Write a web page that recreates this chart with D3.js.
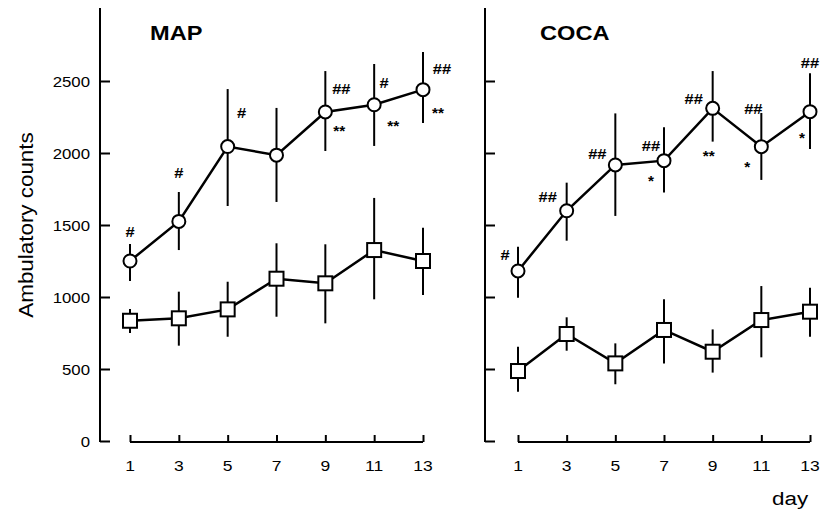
<!DOCTYPE html>
<html>
<head>
<meta charset="utf-8">
<script src="https://cdn.jsdelivr.net/npm/d3@7"></script>
<style>
  body { margin: 0; background: #fff; }
  svg { font-family: "Liberation Sans", Arial, sans-serif; }
</style>
</head>
<body>
<script>
// data
const days = [1, 3, 5, 7, 9, 11, 13];
const yTicks = [0, 500, 1000, 1500, 2000, 2500];

// MAP panel
const mapDrug = [1250, 1525, 2045, 1985, 2285, 2335, 2440];
const mapDrugHi = [1368, 1729, 2444, 2313, 2569, 2618, 2701];
const mapDrugLo = [1111, 1326, 1632, 1660, 2014, 2049, 2208];
const mapCtrl = [835, 852, 914, 1127, 1095, 1326, 1250];
const mapCtrlHi = [917, 1037, 1106, 1373, 1366, 1688, 1481];
const mapCtrlLo = [750, 662, 724, 863, 817, 984, 1014];
const mapHash = ["#", "#", "#", "", "##", "#", "##"];
const mapStar = ["", "", "", "", "**", "**", "**"];

// COCA panel
const cocaDrug = [1181, 1599, 1917, 1947, 2310, 2044, 2287];
const cocaDrugHi = [1349, 1794, 2275, 2178, 2569, 2278, 2553];
const cocaDrugLo = [995, 1391, 1563, 1725, 2079, 1813, 2028];
const cocaCtrl = [486, 743, 539, 771, 620, 840, 898];
const cocaCtrlHi = [655, 859, 678, 984, 775, 1076, 1065];
const cocaCtrlLo = [342, 627, 394, 539, 475, 581, 724];
const cocaHash = ["#", "##", "##", "##", "##", "##", "##"];
const cocaStar = ["", "", "", "*", "**", "*", "*"];

// layout
const W = 821, H = 512;
const svg = d3.select("body").append("svg")
    .attr("width", W).attr("height", H);

const y = d3.scaleLinear().domain([0, 3000]).range([441, 9]);

// the scanned type is wider than Liberation Sans, so stretch it a bit
const stretch = (x, yy, sx) => `translate(${x},${yy}) scale(${sx},1)`;

// label offsets (dx, dy) from each circle
const mapHashPos = [[0, -29], [0, -48], [14, -34], [0, 0], [16, -23], [10, -22], [19, -21]];
const mapStarPos = [[0, 0], [0, 0], [0, 0], [0, 0], [14, 16], [19, 18], [15, 20]];
const cocaHashPos = [[-13, -16], [-19, -14], [-18, -11], [-13, -15], [-19, -9], [-8, -38], [0, -49]];
const cocaStarPos = [[0, 0], [0, 0], [0, 0], [-13, 17], [-4, 45], [-14, 17], [-8, 23]];

const panels = [
    {title: "MAP", axisX: 100, xRange: [130, 423], titleX: 150, labels: true,
     drug: mapDrug, drugHi: mapDrugHi, drugLo: mapDrugLo,
     ctrl: mapCtrl, ctrlHi: mapCtrlHi, ctrlLo: mapCtrlLo,
     hash: mapHash, star: mapStar, hashPos: mapHashPos, starPos: mapStarPos},
    {title: "COCA", axisX: 485, xRange: [518, 810], titleX: 540, labels: false,
     drug: cocaDrug, drugHi: cocaDrugHi, drugLo: cocaDrugLo,
     ctrl: cocaCtrl, ctrlHi: cocaCtrlHi, ctrlLo: cocaCtrlLo,
     hash: cocaHash, star: cocaStar, hashPos: cocaHashPos, starPos: cocaStarPos}
];

const draw_panel = function (p) {
    const x = d3.scaleLinear().domain([1, 13]).range(p.xRange);
    const g = svg.append("g");

    // y axis: ticks point inward
    const yAxis = d3.axisRight(y).tickValues(yTicks).tickSize(10).tickFormat("");
    const ya = g.append("g")
        .attr("transform", `translate(${p.axisX},0)`)
        .call(yAxis);
    ya.select(".domain").remove();
    ya.selectAll("line").attr("stroke", "#000").attr("stroke-width", 2);
    g.append("line")
        .attr("x1", p.axisX).attr("x2", p.axisX)
        .attr("y1", y(3000) - 1).attr("y2", y(0) + 1)
        .attr("stroke", "#000").attr("stroke-width", 2);

    if (p.labels) {
        g.selectAll("text.ylab").data(yTicks).enter()
            .append("text").attr("class", "ylab")
            .attr("transform", d => stretch(90, y(d) + 6, 1.12))
            .attr("text-anchor", "end")
            .attr("font-size", 15)
            .text(d => d);
    }

    // x axis: separate baseline, ticks point up
    const xAxis = d3.axisTop(x).tickValues(days).tickSize(7).tickFormat("");
    const xa = g.append("g")
        .attr("transform", `translate(0,${y(0) + 1})`)
        .call(xAxis);
    xa.select(".domain").attr("stroke", "#000").attr("stroke-width", 2)
        .attr("d", `M${p.xRange[0]},0H${p.xRange[1]}`);
    xa.selectAll("line").attr("stroke", "#000").attr("stroke-width", 2);
    g.selectAll("text.xlab").data(days).enter()
        .append("text").attr("class", "xlab")
        .attr("transform", d => stretch(x(d), 471, 1.25))
        .attr("text-anchor", "middle")
        .attr("font-size", 14)
        .text(d => d);

    g.append("text")
        .attr("transform", stretch(p.titleX, 40, 1.18))
        .attr("font-size", 20).attr("font-weight", "bold")
        .text(p.title);

    const series = [
        {v: p.ctrl, hi: p.ctrlHi, lo: p.ctrlLo, shape: "square"},
        {v: p.drug, hi: p.drugHi, lo: p.drugLo, shape: "circle"}
    ];

    series.forEach(s => {
        g.selectAll(null).data(days).enter()
            .append("line")
            .attr("x1", d => x(d)).attr("x2", d => x(d))
            .attr("y1", (d, i) => y(s.hi[i])).attr("y2", (d, i) => y(s.lo[i]))
            .attr("stroke", "#000").attr("stroke-width", 2);

        const line = d3.line().x((d, i) => x(days[i])).y(d => y(d));
        g.append("path")
            .attr("d", line(s.v))
            .attr("fill", "none").attr("stroke", "#000").attr("stroke-width", 2.5);

        if (s.shape === "circle") {
            g.selectAll(null).data(s.v).enter()
                .append("circle")
                .attr("cx", (d, i) => x(days[i])).attr("cy", d => y(d))
                .attr("r", 6.5)
                .attr("fill", "#fff").attr("stroke", "#000").attr("stroke-width", 2);
        } else {
            g.selectAll(null).data(s.v).enter()
                .append("rect")
                .attr("x", (d, i) => x(days[i]) - 7).attr("y", d => y(d) - 7)
                .attr("width", 14).attr("height", 14)
                .attr("fill", "#fff").attr("stroke", "#000").attr("stroke-width", 2);
        }
    });

    // significance marks
    g.selectAll(null).data(p.hash).enter()
        .append("text")
        .attr("transform", (d, i) =>
            stretch(x(days[i]) + p.hashPos[i][0], y(p.drug[i]) + p.hashPos[i][1] + 5, 1.1))
        .attr("text-anchor", "middle")
        .attr("font-size", 15).attr("font-weight", "bold")
        .text(d => d);
    g.selectAll(null).data(p.star).enter()
        .append("text")
        .attr("transform", (d, i) =>
            stretch(x(days[i]) + p.starPos[i][0], y(p.drug[i]) + p.starPos[i][1] + 8, 1.1))
        .attr("text-anchor", "middle")
        .attr("font-size", 14).attr("font-weight", "bold")
        .text(d => d);
};

panels.forEach(draw_panel);

svg.append("text")
    .attr("transform", "translate(33,225) rotate(-90) scale(1.12,1)")
    .attr("text-anchor", "middle")
    .attr("font-size", 20)
    .text("Ambulatory counts");

svg.append("text")
    .attr("transform", stretch(772, 505, 1.18))
    .attr("font-size", 19)
    .text("day");
</script>
</body>
</html>
